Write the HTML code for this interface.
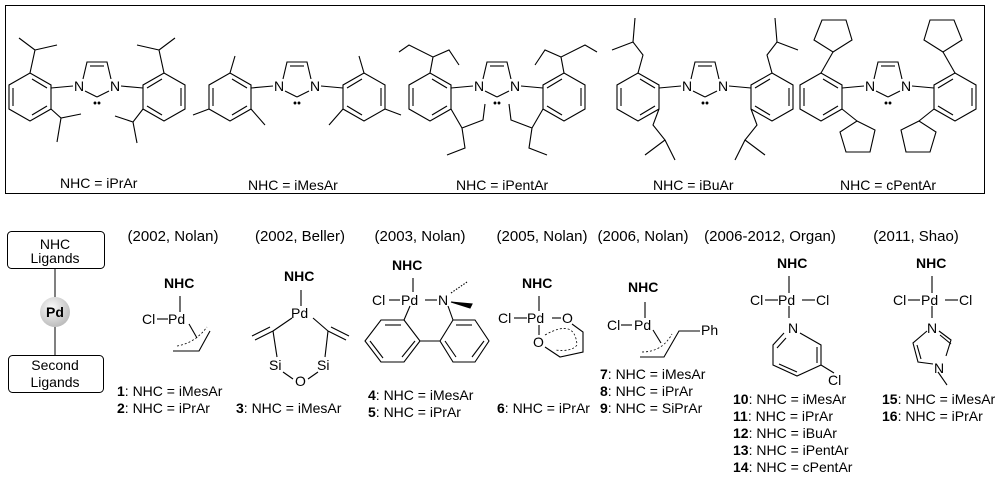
<!DOCTYPE html>
<html><head><meta charset="utf-8"><style>
body{margin:0;background:#fff;}
svg{display:block;font-family:"Liberation Sans",Arial,sans-serif;}
.t{font-size:14px;fill:#000}
.h{font-size:15px;fill:#000}
.b{font-weight:bold}
</style></head><body>
<svg width="1000" height="485" viewBox="0 0 1000 485">
<defs>
<radialGradient id="pg" cx="40%" cy="35%" r="65%"><stop offset="0" stop-color="#fafafa"/><stop offset="1" stop-color="#bdbdbd"/></radialGradient>
<g id="core" fill="none" stroke="#000" stroke-width="1.1">
 <polyline points="-14,79 -10,62 10,62 14,79"/>
 <line x1="-7" y1="66" x2="7" y2="66"/>
 <line x1="-12" y1="91" x2="0" y2="97"/><line x1="12" y1="91" x2="0" y2="97"/>
 <line x1="-24" y1="86" x2="-46" y2="88"/><line x1="24" y1="86" x2="46" y2="88"/>
 <polygon points="-46,85 -46,109 -67,121 -88,109 -88,85 -67,73"/>
 <line x1="-84" y1="88" x2="-84" y2="106"/><line x1="-50" y1="106" x2="-65" y2="115"/><line x1="-65" y1="79" x2="-50" y2="88"/>
 <polygon points="46,85 46,109 67,121 88,109 88,85 67,73"/>
 <line x1="84" y1="88" x2="84" y2="106"/><line x1="50" y1="106" x2="65" y2="115"/><line x1="65" y1="79" x2="50" y2="88"/>
 <circle cx="-2" cy="103" r="0.9" fill="#000"/><circle cx="2" cy="103" r="0.9" fill="#000"/>
</g>
</defs>
<rect x="5.5" y="5.5" width="979" height="188" fill="none" stroke="#000" stroke-width="1"/>

<g transform="translate(97,0)">
<use href="#core"/>
<text x="-23" y="91" class="t">N</text><text x="13" y="91" class="t">N</text>
<g fill="none" stroke="#000" stroke-width="1.1">
<polyline points="-67,73 -62,50 -78,38"/><line x1="-62" y1="50" x2="-40" y2="45"/>
<polyline points="-46,109 -36,118 -16,114"/><line x1="-36" y1="118" x2="-40" y2="142"/>
<polyline points="67,73 62,50 78,38"/><line x1="62" y1="50" x2="40" y2="45"/>
<polyline points="46,109 36,122 18,116"/><line x1="36" y1="122" x2="40" y2="143"/>
</g></g>
<g transform="translate(297,0)">
<use href="#core"/>
<text x="-23" y="91" class="t">N</text><text x="13" y="91" class="t">N</text>
<g fill="none" stroke="#000" stroke-width="1.1">
<line x1="-67" y1="73" x2="-62" y2="56"/><line x1="-46" y1="109" x2="-32" y2="125"/><line x1="-88" y1="109" x2="-104" y2="115"/>
<line x1="67" y1="73" x2="62" y2="56"/><line x1="46" y1="109" x2="32" y2="125"/><line x1="88" y1="109" x2="104" y2="115"/>
</g></g>
<g transform="translate(497,0)">
<use href="#core"/>
<text x="-23" y="91" class="t">N</text><text x="13" y="91" class="t">N</text>
<g fill="none" stroke="#000" stroke-width="1.1">
<polyline points="-67,73 -64,57 -88,45 -98,52"/><polyline points="-64,57 -48,50 -38,65"/>
<polyline points="-46,109 -35,128 -14,120 -12,104"/><polyline points="-35,128 -32,148 -50,155"/>
<polyline points="67,73 64,57 88,45 100,52"/><polyline points="64,57 48,50 38,65"/>
<polyline points="46,109 35,128 14,120 12,104"/><polyline points="35,128 32,148 50,155"/>
</g></g>
<g transform="translate(705,0)">
<use href="#core"/>
<text x="-23" y="91" class="t">N</text><text x="13" y="91" class="t">N</text>
<g fill="none" stroke="#000" stroke-width="1.1">
<polyline points="-67,73 -62,55 -72,42 -93,50"/><line x1="-72" y1="42" x2="-70" y2="18"/>
<polyline points="-46,109 -52,125 -40,140 -60,155"/><line x1="-40" y1="140" x2="-30" y2="160"/>
<polyline points="67,73 62,55 72,42 93,50"/><line x1="72" y1="42" x2="70" y2="18"/>
<polyline points="46,109 52,125 40,140 60,155"/><line x1="40" y1="140" x2="30" y2="160"/>
</g></g>
<g transform="translate(888,0)">
<use href="#core"/>
<text x="-23" y="91" class="t">N</text><text x="13" y="91" class="t">N</text>
<g fill="none" stroke="#000" stroke-width="1.1">
<line x1="-67" y1="73" x2="-55" y2="52"/><polygon points="-55,52 -36,40 -42,20 -66,20 -74,40"/>
<line x1="-46" y1="109" x2="-31" y2="121"/><polygon points="-31,121 -13,130 -18,152 -42,152 -48,132"/>
<line x1="67" y1="73" x2="55" y2="52"/><polygon points="55,52 36,40 42,20 66,20 74,40"/>
<line x1="46" y1="109" x2="31" y2="121"/><polygon points="31,121 13,130 18,152 42,152 48,132"/>
</g></g>

<text x="60" y="188" class="t">NHC = iPrAr</text>
<text x="248" y="190" class="t">NHC = iMesAr</text>
<text x="456" y="190" class="t">NHC = iPentAr</text>
<text x="653" y="190" class="t">NHC = iBuAr</text>
<text x="840" y="190" class="t">NHC = cPentAr</text>

<g fill="none" stroke="#000" stroke-width="1">
<rect x="7.5" y="231.5" width="97" height="37" rx="4"/>
<rect x="8.5" y="355.5" width="95" height="37" rx="4"/>
<line x1="55" y1="269" x2="55" y2="297"/><line x1="55" y1="327" x2="55" y2="355"/>
</g>
<circle cx="55" cy="312" r="15" fill="url(#pg)"/>
<text x="55" y="249" class="t" text-anchor="middle">NHC</text>
<text x="55" y="263" class="t" text-anchor="middle">Ligands</text>
<text x="55" y="317" class="t b" text-anchor="middle">Pd</text>
<text x="55" y="370" class="t" text-anchor="middle">Second</text>
<text x="55" y="387" class="t" text-anchor="middle">Ligands</text>

<g class="h" text-anchor="middle">
<text x="173" y="241">(2002, Nolan)</text>
<text x="300" y="241">(2002, Beller)</text>
<text x="420" y="241">(2003, Nolan)</text>
<text x="542" y="241">(2005, Nolan)</text>
<text x="643" y="241">(2006, Nolan)</text>
<text x="770" y="241">(2006-2012, Organ)</text>
<text x="916" y="241">(2011, Shao)</text>
</g>

<g fill="none" stroke="#000" stroke-width="1.1">
<line x1="180" y1="296" x2="180" y2="312"/><line x1="157" y1="319" x2="168" y2="319"/>
<line x1="189" y1="324" x2="197" y2="338"/><polyline points="173,351 199,351 210,331"/>
<path d="M177,346 Q195,343 207,327" stroke-dasharray="2,2" stroke-width="0.8"/>
<line x1="301" y1="290" x2="301" y2="306"/>
<line x1="292" y1="318" x2="273" y2="331"/><line x1="313" y1="318" x2="328" y2="331"/>
<line x1="273" y1="331" x2="255" y2="340"/><line x1="270" y1="327" x2="252" y2="336"/>
<line x1="328" y1="331" x2="346" y2="340"/><line x1="331" y1="327" x2="349" y2="336"/>
<line x1="273" y1="331" x2="277" y2="357"/><line x1="328" y1="331" x2="325" y2="357"/>
<line x1="283" y1="372" x2="293" y2="379"/><line x1="308" y1="379" x2="318" y2="372"/>
<line x1="413" y1="278" x2="413" y2="292"/><line x1="389" y1="300" x2="400" y2="300"/><line x1="425" y1="300" x2="437" y2="300"/>
<line x1="451" y1="293" x2="467" y2="282" stroke-dasharray="1.5,1.5"/>
<polygon points="451,302 472,304 470,308" fill="#000"/>
<line x1="410" y1="306" x2="404" y2="320"/><line x1="448" y1="306" x2="453" y2="320"/>
<polygon points="404,320 420,341 404,362 381,362 365,341 381,320"/>
<line x1="385" y1="325" x2="401" y2="325"/><line x1="370" y1="341" x2="383" y2="358"/><line x1="402" y1="357" x2="415" y2="341"/>
<line x1="420" y1="341" x2="440" y2="341"/>
<polygon points="453,320 475,320 489,341 475,362 453,362 440,341"/>
<line x1="456" y1="325" x2="472" y2="325"/><line x1="484" y1="341" x2="472" y2="357"/><line x1="456" y1="357" x2="445" y2="341"/>
<line x1="539" y1="296" x2="539" y2="311"/><line x1="514" y1="318" x2="527" y2="318"/><line x1="552" y1="318" x2="561" y2="318"/>
<line x1="539" y1="325" x2="539" y2="335"/>
<polyline points="572,324 583,332 583,352 560,357 545,347"/>
<path d="M545,335 Q575,318 577,345 Q572,352 555,350" stroke-dasharray="2,2" stroke-width="0.8"/>
<line x1="645" y1="302" x2="645" y2="318"/><line x1="621" y1="325" x2="632" y2="325"/>
<line x1="653" y1="330" x2="661" y2="343"/><polyline points="640,357 664,357 679,331 700,331"/>
<path d="M642,352 Q662,352 672,334" stroke-dasharray="2,2" stroke-width="0.8"/>
<line x1="789" y1="276" x2="789" y2="293"/><line x1="765" y1="300" x2="778" y2="300"/><line x1="802" y1="300" x2="815" y2="300"/>
<line x1="789" y1="306" x2="789" y2="318"/>
<polyline points="784,333 773,345 773,365 797,376 821,365 821,345 800,333"/>
<line x1="777" y1="348" x2="786" y2="338"/><line x1="779" y1="364" x2="797" y2="372"/><line x1="817" y1="347" x2="817" y2="363"/>
<line x1="821" y1="365" x2="834" y2="373"/>
<line x1="932" y1="276" x2="932" y2="293"/><line x1="908" y1="300" x2="920" y2="300"/><line x1="945" y1="300" x2="958" y2="300"/>
<line x1="932" y1="306" x2="932" y2="318"/>
<polyline points="927,331 913,343 918,362 933,364"/><line x1="917" y1="345" x2="921" y2="359"/>
<polyline points="939,331 951,340 946,356"/><line x1="940" y1="335" x2="951" y2="344"/>
<line x1="938" y1="372" x2="947" y2="385"/>
</g>

<g class="t">
<text x="164" y="288" class="b">NHC</text><text x="142" y="324">Cl</text><text x="168" y="324">Pd</text>
<text x="284" y="281" class="b">NHC</text><text x="291" y="318">Pd</text><text x="269" y="370">Si</text><text x="317" y="370">Si</text><text x="295" y="386">O</text>
<text x="392" y="270" class="b">NHC</text><text x="372" y="305">Cl</text><text x="401" y="305">Pd</text><text x="438" y="305">N</text>
<text x="522" y="288" class="b">NHC</text><text x="498" y="323">Cl</text><text x="527" y="323">Pd</text><text x="562" y="323">O</text><text x="533" y="347">O</text>
<text x="628" y="292" class="b">NHC</text><text x="607" y="330">Cl</text><text x="634" y="330">Pd</text><text x="701" y="335">Ph</text>
<text x="777" y="268" class="b">NHC</text><text x="750" y="305">Cl</text><text x="778" y="305">Pd</text><text x="816" y="305">Cl</text><text x="788" y="333">N</text><text x="828" y="385">Cl</text>
<text x="916" y="268" class="b">NHC</text><text x="893" y="305">Cl</text><text x="921" y="305">Pd</text><text x="959" y="305">Cl</text><text x="927" y="333">N</text><text x="934" y="373">N</text>

<text x="117" y="396"><tspan class="b">1</tspan>: NHC = iMesAr</text>
<text x="117" y="413"><tspan class="b">2</tspan>: NHC = iPrAr</text>
<text x="236" y="413"><tspan class="b">3</tspan>: NHC = iMesAr</text>
<text x="368" y="400"><tspan class="b">4</tspan>: NHC = iMesAr</text>
<text x="368" y="417"><tspan class="b">5</tspan>: NHC = iPrAr</text>
<text x="497" y="413"><tspan class="b">6</tspan>: NHC = iPrAr</text>
<text x="600" y="379"><tspan class="b">7</tspan>: NHC = iMesAr</text>
<text x="600" y="396"><tspan class="b">8</tspan>: NHC = iPrAr</text>
<text x="600" y="413"><tspan class="b">9</tspan>: NHC = SiPrAr</text>
<text x="733" y="404"><tspan class="b">10</tspan>: NHC = iMesAr</text>
<text x="733" y="421"><tspan class="b">11</tspan>: NHC = iPrAr</text>
<text x="733" y="438"><tspan class="b">12</tspan>: NHC = iBuAr</text>
<text x="733" y="455"><tspan class="b">13</tspan>: NHC = iPentAr</text>
<text x="733" y="472"><tspan class="b">14</tspan>: NHC = cPentAr</text>
<text x="882" y="404"><tspan class="b">15</tspan>: NHC = iMesAr</text>
<text x="882" y="421"><tspan class="b">16</tspan>: NHC = iPrAr</text>
</g>
</svg>
</body></html>
